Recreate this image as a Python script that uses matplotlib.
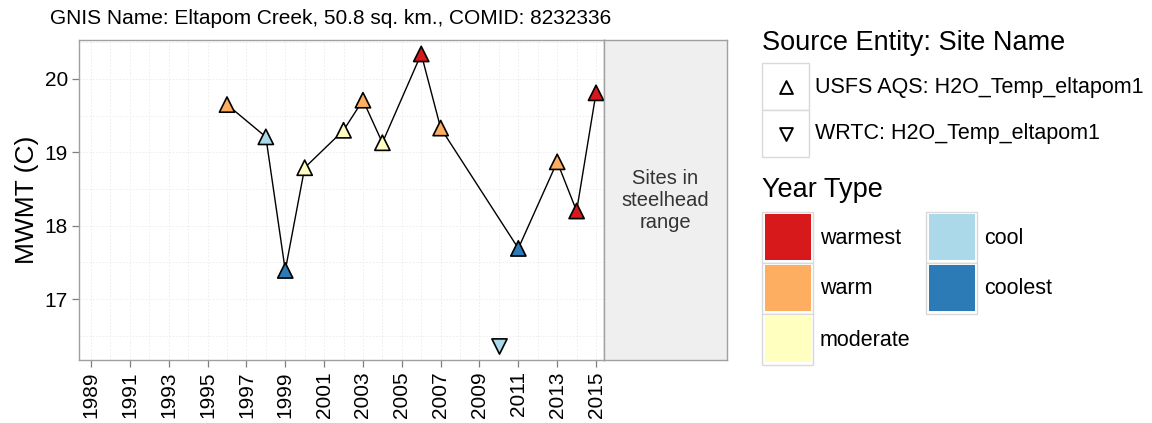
import numpy as np
import matplotlib
matplotlib.use("Agg")
from matplotlib import pyplot as plt
from matplotlib.patches import Rectangle

plt.rcParams['font.family'] = ['Liberation Sans', 'DejaVu Sans']

# data
usfs_years = [1996, 1998, 1999, 2000, 2002, 2003, 2004, 2006, 2007, 2011, 2013, 2014, 2015]
usfs_mwmt = [19.65, 19.21, 17.39, 18.79, 19.30, 19.71, 19.13, 20.34, 19.33, 17.69, 18.87, 18.20, 19.81]
usfs_type = ['warm', 'cool', 'coolest', 'moderate', 'moderate', 'warm', 'moderate',
             'warmest', 'warm', 'coolest', 'warm', 'warmest', 'warmest']
wrtc_years = [2010]
wrtc_mwmt = [16.36]
wrtc_type = ['cool']

year_types = ['warmest', 'warm', 'moderate', 'cool', 'coolest']
type_colors = {'warmest': '#D7191C', 'warm': '#FDAE61', 'moderate': '#FFFFBF',
               'cool': '#ABD9E9', 'coolest': '#2C7BB6'}
sources = ['USFS AQS: H2O_Temp_eltapom1', 'WRTC: H2O_Temp_eltapom1']
x_ticks = list(range(1989, 2016, 2))
y_ticks = [17, 18, 19, 20]

W, H = 1152, 423
fig = plt.figure(figsize=(W / 100, H / 100), dpi=100)

def px_axes(x0, y0, x1, y1):
    return fig.add_axes([x0 / W, 1 - y1 / H, (x1 - x0) / W, (y1 - y0) / H])

# main panel
ax = px_axes(79, 40, 604, 360)
ax.set_xlim(1988.38, 2015.41)
ax.set_ylim(16.17, 20.53)
ax.set_xticks(x_ticks)
ax.set_xticks(np.arange(1990, 2016, 2), minor=True)
ax.set_yticks(y_ticks)
ax.set_yticks([16.5, 17.5, 18.5, 19.5, 20.5], minor=True)
ax.grid(True, which='both', color='#EBEBEB', lw=0.6, ls=(0, (2, 2)))
ax.set_axisbelow(True)
for s in ax.spines.values():
    s.set_color('#A0A0A0')
    s.set_linewidth(1.0)
ax.tick_params(axis='both', which='major', length=5, color='#7F7F7F', labelsize=15,
               labelcolor='black', width=0.9, pad=3)
ax.tick_params(axis='both', which='minor', length=0)
ax.tick_params(axis='x', labelrotation=90)
ax.set_ylabel('MWMT (C)', fontsize=19, labelpad=4)

ax.plot(usfs_years, usfs_mwmt, color='black', lw=1.0, zorder=2)
ax.scatter(usfs_years, usfs_mwmt, marker='^', s=120,
           c=[type_colors[t] for t in usfs_type], edgecolors='black', linewidths=1.2, zorder=3)
ax.scatter(wrtc_years, wrtc_mwmt, marker='v', s=120,
           c=[type_colors[t] for t in wrtc_type], edgecolors='black', linewidths=1.2, zorder=3)

fig.text(50 / W, 1 - 18 / H, 'GNIS Name: Eltapom Creek, 50.8 sq. km., COMID: 8232336',
         fontsize=15, va='center', ha='left')

# facet strip
sx = px_axes(604, 40, 727, 360)
sx.set_facecolor('#EFEFEF')
sx.set_xticks([])
sx.set_yticks([])
for s in sx.spines.values():
    s.set_color('#A0A0A0')
    s.set_linewidth(1.0)
sx.text(0.5, 0.5, 'Sites in\nsteelhead\nrange', ha='center', va='center',
        fontsize=14.5, color='#333333', linespacing=1.2, transform=sx.transAxes)

# legends, drawn in pixel space
lg = fig.add_axes([0, 0, 1, 1])
lg.set_xlim(0, W)
lg.set_ylim(H, 0)
lg.axis('off')

lg.text(762, 43, 'Source Entity: Site Name', fontsize=19.5, va='center', ha='left')
for i, (src, mk) in enumerate(zip(sources, ['^', 'v'])):
    y0 = 63 + i * 47
    lg.add_patch(Rectangle((762, y0), 47, 47, fc='white', ec='#D9D9D9', lw=1.0))
    lg.scatter([785.5], [y0 + 24], marker=mk, s=85, facecolors='white',
               edgecolors='black', linewidths=1.4, zorder=3)
    lg.text(815, y0 + 24, src, fontsize=15.5, va='center', ha='left')

lg.text(762, 190, 'Year Type', fontsize=19.5, va='center', ha='left')
for i, t in enumerate(year_types):
    col, row = divmod(i, 3)
    x0 = 762 + col * 164
    y0 = 212 + row * 51
    lg.add_patch(Rectangle((x0, y0), 51, 51, fc='white', ec='#D9D9D9', lw=1.0))
    lg.add_patch(Rectangle((x0 + 2.5, y0 + 2.5), 46, 46, fc=type_colors[t], ec='none'))
    lg.text(x0 + 58, y0 + 26, t, fontsize=15.5, va='center', ha='left')

fig.savefig('out.png', dpi=100)
